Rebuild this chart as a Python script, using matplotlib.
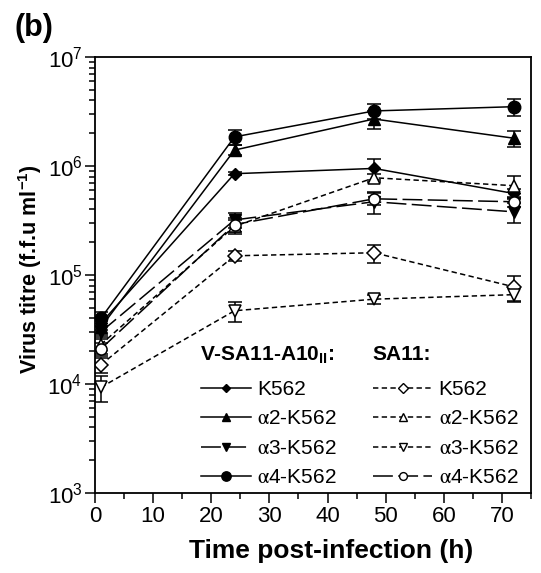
import matplotlib
matplotlib.use("Agg")
import matplotlib.pyplot as plt
from matplotlib.lines import Line2D
from matplotlib.ticker import FixedLocator, FuncFormatter, MultipleLocator, LogLocator, NullFormatter
import numpy as np

plt.rcParams['font.family'] = ['Liberation Sans', 'DejaVu Sans']
plt.rcParams['mathtext.fontset'] = 'stix'

t = [1, 24, 48, 72]

# V-SA11-A10II
v_k562 = [3.6e4, 8.5e5, 9.5e5, 5.6e5]
v_a2 = [3.3e4, 1.4e6, 2.7e6, 1.8e6]
v_a3 = [3.0e4, 3.2e5, 4.7e5, 3.8e5]
v_a4 = [4.0e4, 1.85e6, 3.2e6, 3.5e6]
v_k562_err = [5e3, 3e4, 2e5, 6e4]
v_a2_err = [5e3, 1.5e5, 5e5, 3e5]
v_a3_err = [4e3, 5e4, 1.1e5, 8e4]
v_a4_err = [6e3, 3e5, 5e5, 6e5]

# SA11
s_k562 = [1.5e4, 1.5e5, 1.6e5, 7.8e4]
s_a2 = [2.3e4, 2.8e5, 7.8e5, 6.6e5]
s_a3 = [9.3e3, 4.7e4, 6.0e4, 6.6e4]
s_a4 = [2.1e4, 2.9e5, 5.0e5, 4.7e5]
s_k562_err = [2.5e3, 1.5e4, 3e4, 2e4]
s_a2_err = [4e3, 4e4, 6e4, 1.5e5]
s_a3_err = [2.5e3, 1e4, 6e3, 1e4]
s_a4_err = [3e3, 4e4, 6e4, 5e4]

labels = ['K562', r'$\mathrm{\alpha}$2-K562', r'$\mathrm{\alpha}$3-K562', r'$\mathrm{\alpha}$4-K562']

fig = plt.figure(figsize=(5.41, 5.73), dpi=100)
ax = fig.add_axes([95/541, 1-493/573, 436/541, 436/573])

solid = '-'
longd = (0, (13, 3.5))
shortd = (0, (3.5, 2.2))

v_series = [
    (v_k562, v_k562_err, 'D', solid, 6),
    (v_a2, v_a2_err, '^', solid, 8),
    (v_a3, v_a3_err, 'v', longd, 8),
    (v_a4, v_a4_err, 'o', solid, 9),
]
s_series = [
    (s_k562, s_k562_err, 'D', shortd, 7),
    (s_a2, s_a2_err, '^', shortd, 9),
    (s_a3, s_a3_err, 'v', shortd, 9),
    (s_a4, s_a4_err, 'o', longd, 8),
]

vh = []
for (vals, err, m, ls, ms), lab in zip(v_series, labels):
    ax.errorbar(t, vals, yerr=err, color='black', marker=m, ms=ms, mfc='black', mec='black',
                linestyle=ls, lw=1.1, capsize=5, capthick=1.1, elinewidth=1.1)
    vh.append(Line2D([], [], color='black', marker=m, ms=ms*0.75, mfc='black', mec='black',
                     linestyle=ls, lw=1.1))
sh = []
for (vals, err, m, ls, ms), lab in zip(s_series, labels):
    ax.errorbar(t, vals, yerr=err, color='black', marker=m, ms=ms, mfc='white', mec='black',
                mew=1.1, linestyle=ls, lw=1.1, capsize=5, capthick=1.1, elinewidth=1.1)
    sh.append(Line2D([], [], color='black', marker=m, ms=ms*0.7, mfc='white', mec='black',
                     linestyle=ls, lw=1.1))

ax.set_yscale('log')
ax.set_ylim(1e3, 1e7)
ax.set_xlim(0, 75)
ax.xaxis.set_major_locator(MultipleLocator(10))
ax.xaxis.set_minor_locator(MultipleLocator(5))
ax.yaxis.set_major_locator(FixedLocator([1e3, 1e4, 1e5, 1e6, 1e7]))
ax.yaxis.set_minor_locator(LogLocator(base=10, subs=np.arange(2, 10)))
ax.yaxis.set_minor_formatter(NullFormatter())
ax.yaxis.set_major_formatter(FuncFormatter(lambda v, p: r'$\mathregular{10^{%d}}$' % int(round(np.log10(v)))))
ax.tick_params(which='major', direction='out', length=7, width=1.1, labelsize=16, pad=2)
ax.tick_params(which='minor', direction='out', length=4, width=1.1)
ax.tick_params(top=False, right=False)
for s in ax.spines.values():
    s.set_linewidth(1.3)

ax.set_ylabel(r'Virus titre (f.f.u ml$\mathregular{^{-1}}$)', fontsize=15.5, fontweight='bold')
ax.yaxis.set_label_coords(-(95-44)/436, (493-269)/436)
ax.set_xlabel('Time post-infection (h)', fontsize=19, fontweight='bold')
ax.xaxis.set_label_coords((331-95)/436, -0.105)

fig.text(14/541, 1-28/573, '(b)', fontsize=22, fontweight='bold', va='center', ha='left')

ax.text((200-95)/436, (493-355)/436, r'V-SA11-A10$\mathregular{_{II}}$:', transform=ax.transAxes,
        fontsize=15, fontweight='bold', va='center', ha='left')
ax.text((372-95)/436, (493-355)/436, 'SA11:', transform=ax.transAxes,
        fontsize=15, fontweight='bold', va='center', ha='left')

leg1 = ax.legend(vh, labels, loc='upper left', bbox_to_anchor=((201-95)/436, (493-380)/436),
                 frameon=False, fontsize=15, handlelength=2.4, handletextpad=0.3,
                 labelspacing=0.5, borderpad=0, borderaxespad=0, numpoints=1)
ax.add_artist(leg1)
leg2 = ax.legend(sh, labels, loc='upper left', bbox_to_anchor=((373-95)/436, (493-380)/436),
                 frameon=False, fontsize=15, handlelength=2.85, handletextpad=0.3,
                 labelspacing=0.5, borderpad=0, borderaxespad=0, numpoints=1)

fig.savefig('out.png', dpi=100)
